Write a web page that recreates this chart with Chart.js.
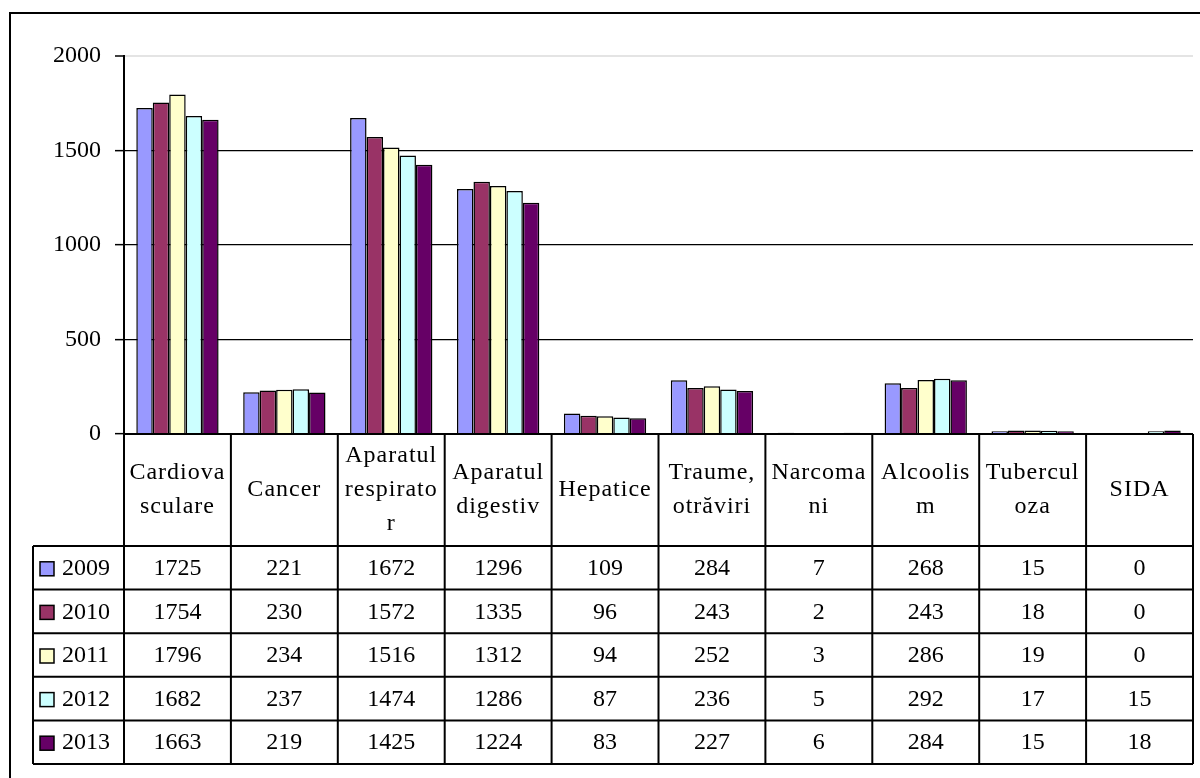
<!DOCTYPE html>
<html>
<head>
<meta charset="utf-8">
<script src="https://cdn.jsdelivr.net/npm/chart.js@4/dist/chart.umd.min.js"></script>
<style>
  html, body { margin: 0; padding: 0; background: #fff; }
  canvas { display: block; }
</style>
</head>
<body>
<canvas id="chart" width="1200" height="778"></canvas>
<script>
// categorii (etichete pe rânduri, cum apar în tabel)
var categories = [
    ['Cardiova', 'sculare'],
    ['Cancer'],
    ['Aparatul', 'respirato', 'r'],
    ['Aparatul', 'digestiv'],
    ['Hepatice'],
    ['Traume,', 'otrăviri'],
    ['Narcoma', 'ni'],
    ['Alcoolis', 'm'],
    ['Tubercul', 'oza'],
    ['SIDA']
];
var years = ['2009', '2010', '2011', '2012', '2013'];
var v2009 = [1725, 221, 1672, 1296, 109, 284, 7, 268, 15, 0];
var v2010 = [1754, 230, 1572, 1335, 96, 243, 2, 243, 18, 0];
var v2011 = [1796, 234, 1516, 1312, 94, 252, 3, 286, 19, 0];
var v2012 = [1682, 237, 1474, 1286, 87, 236, 5, 292, 17, 15];
var v2013 = [1663, 219, 1425, 1224, 83, 227, 6, 284, 15, 18];
var yTicks = [0, 500, 1000, 1500, 2000];

var colors = ['#9999ff', '#993366', '#ffffcc', '#ccffff', '#660066'];
var series = [v2009, v2010, v2011, v2012, v2013];
var FONT = '"Liberation Serif", "Times New Roman", serif';

var datasets = years.map(function (y, i) {
    return {
        label: y,
        data: series[i],
        backgroundColor: colors[i],
        borderColor: '#000',
        borderWidth: 1.5,
        borderSkipped: 'bottom',
        categoryPercentage: 0.77,
        barPercentage: 1
    };
});

// tabelul de date sub grafic + rama
var tablePlugin = {
    id: 'dataTable',
    afterDraw: function (chart) {
        var ctx = chart.ctx;
        var xs = chart.scales.x;
        var area = chart.chartArea;
        var n = categories.length;
        var cw = (area.right - area.left) / n;
        var top = area.bottom;
        var headH = 112;
        var rowH = 43.6;
        var legL = 33;
        var bottom = top + headH + rowH * years.length;

        ctx.save();
        ctx.strokeStyle = '#000';
        ctx.lineWidth = 2;

        // linii orizontale
        ctx.beginPath();
        ctx.moveTo(area.left, top);
        ctx.lineTo(area.right, top);
        for (var r = 0; r <= years.length; r++) {
            var yy = top + headH + r * rowH;
            ctx.moveTo(legL, yy);
            ctx.lineTo(area.right, yy);
        }
        // linii verticale
        for (var c = 0; c <= n; c++) {
            var xx = area.left + c * cw;
            ctx.moveTo(xx, top);
            ctx.lineTo(xx, bottom);
        }
        ctx.moveTo(legL, top + headH);
        ctx.lineTo(legL, bottom);
        ctx.stroke();

        ctx.fillStyle = '#000';
        ctx.textAlign = 'center';
        ctx.textBaseline = 'middle';

        // antet
        ctx.font = '24px ' + FONT;
        ctx.letterSpacing = '1px';
        var lh = 34;
        categories.forEach(function (lines, i) {
            var cx = xs.getPixelForValue(i);
            var cy = top + headH / 2;
            var y0 = cy - (lines.length - 1) * lh / 2;
            lines.forEach(function (t, k) {
                ctx.fillText(t, cx, y0 + k * lh);
            });
        });
        ctx.letterSpacing = '0px';

        // rânduri cu valori
        years.forEach(function (yr, r) {
            var cy = top + headH + r * rowH + rowH / 2 + 1;
            // legenda
            ctx.fillStyle = colors[r];
            ctx.fillRect(40, cy - 7, 14, 14);
            ctx.lineWidth = 1.5;
            ctx.strokeRect(40, cy - 7, 14, 14);
            ctx.fillStyle = '#000';
            ctx.textAlign = 'left';
            ctx.fillText(yr, 62, cy);
            ctx.textAlign = 'center';
            series[r].forEach(function (v, i) {
                ctx.fillText(String(v), xs.getPixelForValue(i), cy);
            });
        });

        // rama (doar sus si stanga)
        ctx.lineWidth = 2;
        ctx.beginPath();
        ctx.moveTo(10, 778);
        ctx.lineTo(10, 13);
        ctx.lineTo(1200, 13);
        ctx.stroke();
        ctx.restore();
    }
};

new Chart(document.getElementById('chart'), {
    type: 'bar',
    data: {
        labels: categories,
        datasets: datasets
    },
    options: {
        responsive: false,
        devicePixelRatio: 1,
        animation: false,
        layout: {
            padding: { top: 56, right: 7, bottom: 344, left: 0 }
        },
        plugins: {
            legend: { display: false },
            tooltip: { enabled: false }
        },
        scales: {
            x: {
                display: false
            },
            y: {
                min: 0,
                max: 2000,
                afterFit: function (scale) { scale.width = 124; },
                afterBuildTicks: function (scale) {
                    scale.ticks = yTicks.map(function (v) { return { value: v }; });
                },
                border: { display: true, color: '#000', width: 2 },
                grid: {
                    color: function (c) {
                        return c.tick && c.tick.value === 2000 ? '#e4e4e4' : '#000';
                    },
                    lineWidth: function (c) {
                        return c.tick && c.tick.value === 2000 ? 2 : 1.3;
                    },
                    tickLength: 9,
                    tickColor: '#000',
                    tickWidth: 1.5
                },
                ticks: {
                    padding: 14,
                    color: '#000',
                    font: { family: FONT, size: 24 },
                    callback: function (v) { return String(v); }
                }
            }
        }
    },
    plugins: [tablePlugin]
});
</script>
</body>
</html>
